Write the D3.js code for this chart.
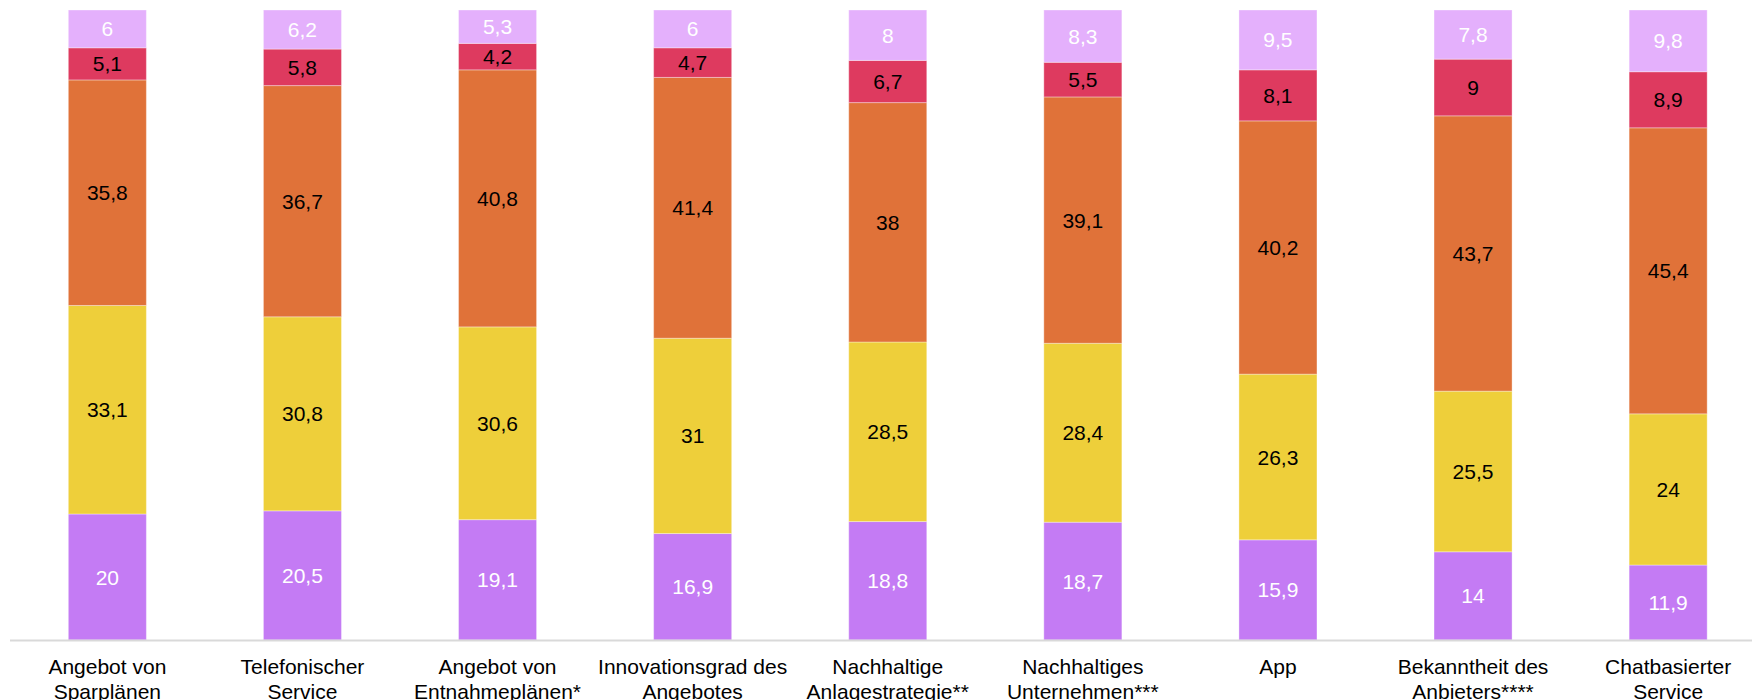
<!DOCTYPE html>
<html>
<head>
<meta charset="utf-8">
<script src="https://cdn.jsdelivr.net/npm/d3@7"></script>
<style>
  html, body { margin: 0; padding: 0; background: #fff; }
  svg { display: block; font-family: "Liberation Sans", Arial, sans-serif; }
</style>
</head>
<body>
<svg id="chart" width="1752" height="700"></svg>
<script>
// Categories (line breaks marked with \n)
const categories = [
  "Angebot von\nSparplänen",
  "Telefonischer\nService",
  "Angebot von\nEntnahmeplänen*",
  "Innovationsgrad des\nAngebotes",
  "Nachhaltige\nAnlagestrategie**",
  "Nachhaltiges\nUnternehmen***",
  "App",
  "Bekanntheit des\nAnbieters****",
  "Chatbasierter\nService"
];

// Series, stacked from bottom to top (shares in %)
const seriesPurple = [20, 20.5, 19.1, 16.9, 18.8, 18.7, 15.9, 14, 11.9];
const seriesYellow = [33.1, 30.8, 30.6, 31, 28.5, 28.4, 26.3, 25.5, 24];
const seriesOrange = [35.8, 36.7, 40.8, 41.4, 38, 39.1, 40.2, 43.7, 45.4];
const seriesRed    = [5.1, 5.8, 4.2, 4.7, 6.7, 5.5, 8.1, 9, 8.9];
const seriesPink   = [6, 6.2, 5.3, 6, 8, 8.3, 9.5, 7.8, 9.8];

const seriesList = [
  { key: "s1", values: seriesPurple, fill: "#c47bf4", text: "#ffffff" },
  { key: "s2", values: seriesYellow, fill: "#eecf3a", text: "#000000" },
  { key: "s3", values: seriesOrange, fill: "#e07239", text: "#000000" },
  { key: "s4", values: seriesRed,    fill: "#de3a5f", text: "#000000" },
  { key: "s5", values: seriesPink,   fill: "#e4b0fc", text: "#ffffff" }
];

const rows = categories.map((c, i) => {
  const r = { cat: c };
  seriesList.forEach(s => { r[s.key] = s.values[i]; });
  return r;
});

const stack = d3.stack().keys(seriesList.map(s => s.key));
const stacked = stack(rows);

const svg = d3.select("#chart");

const x = d3.scaleBand()
  .domain(categories)
  .range([9.8, 1765.7])
  .paddingInner(0.6)
  .paddingOuter(0.3);

const y = d3.scaleLinear().domain([0, 100]).range([640, 10]);

const fmt = v => String(v).replace(".", ",");

// Stacked segments
const layers = svg.append("g").selectAll("g")
  .data(stacked)
  .join("g")
  .attr("fill", (d, i) => seriesList[i].fill);

layers.selectAll("rect")
  .data(d => d)
  .join("rect")
  .attr("x", d => x(d.data.cat))
  .attr("width", x.bandwidth())
  .attr("y", d => y(d[1]))
  .attr("height", d => y(d[0]) - y(d[1]))
  .attr("stroke", "rgba(255,255,255,0.35)")
  .attr("stroke-width", 1);

// Value labels centred in each segment
const labelLayers = svg.append("g").selectAll("g")
  .data(stacked)
  .join("g")
  .attr("fill", (d, i) => seriesList[i].text);

labelLayers.selectAll("text")
  .data((d, i) => d.map(p => ({ p, v: seriesList[i].values[categories.indexOf(p.data.cat)] })))
  .join("text")
  .attr("x", d => x(d.p.data.cat) + x.bandwidth() / 2)
  .attr("y", d => (y(d.p[0]) + y(d.p[1])) / 2)
  .attr("dy", "0.36em")
  .attr("text-anchor", "middle")
  .attr("font-size", 21)
  .text(d => fmt(d.v));

// Baseline
svg.append("line")
  .attr("x1", 10).attr("x2", 1752)
  .attr("y1", 640.5).attr("y2", 640.5)
  .attr("stroke", "#d9d9d9")
  .attr("stroke-width", 2);

// Category labels
const catLabels = svg.append("g").selectAll("text")
  .data(categories)
  .join("text")
  .attr("x", d => x(d) + x.bandwidth() / 2)
  .attr("y", 673.5)
  .attr("text-anchor", "middle")
  .attr("font-size", 21)
  .attr("fill", "#000");

catLabels.selectAll("tspan")
  .data(d => d.split("\n"))
  .join("tspan")
  .attr("x", function () { return d3.select(this.parentNode).attr("x"); })
  .attr("dy", (d, i) => i === 0 ? 0 : 25)
  .text(d => d);
</script>
</body>
</html>
